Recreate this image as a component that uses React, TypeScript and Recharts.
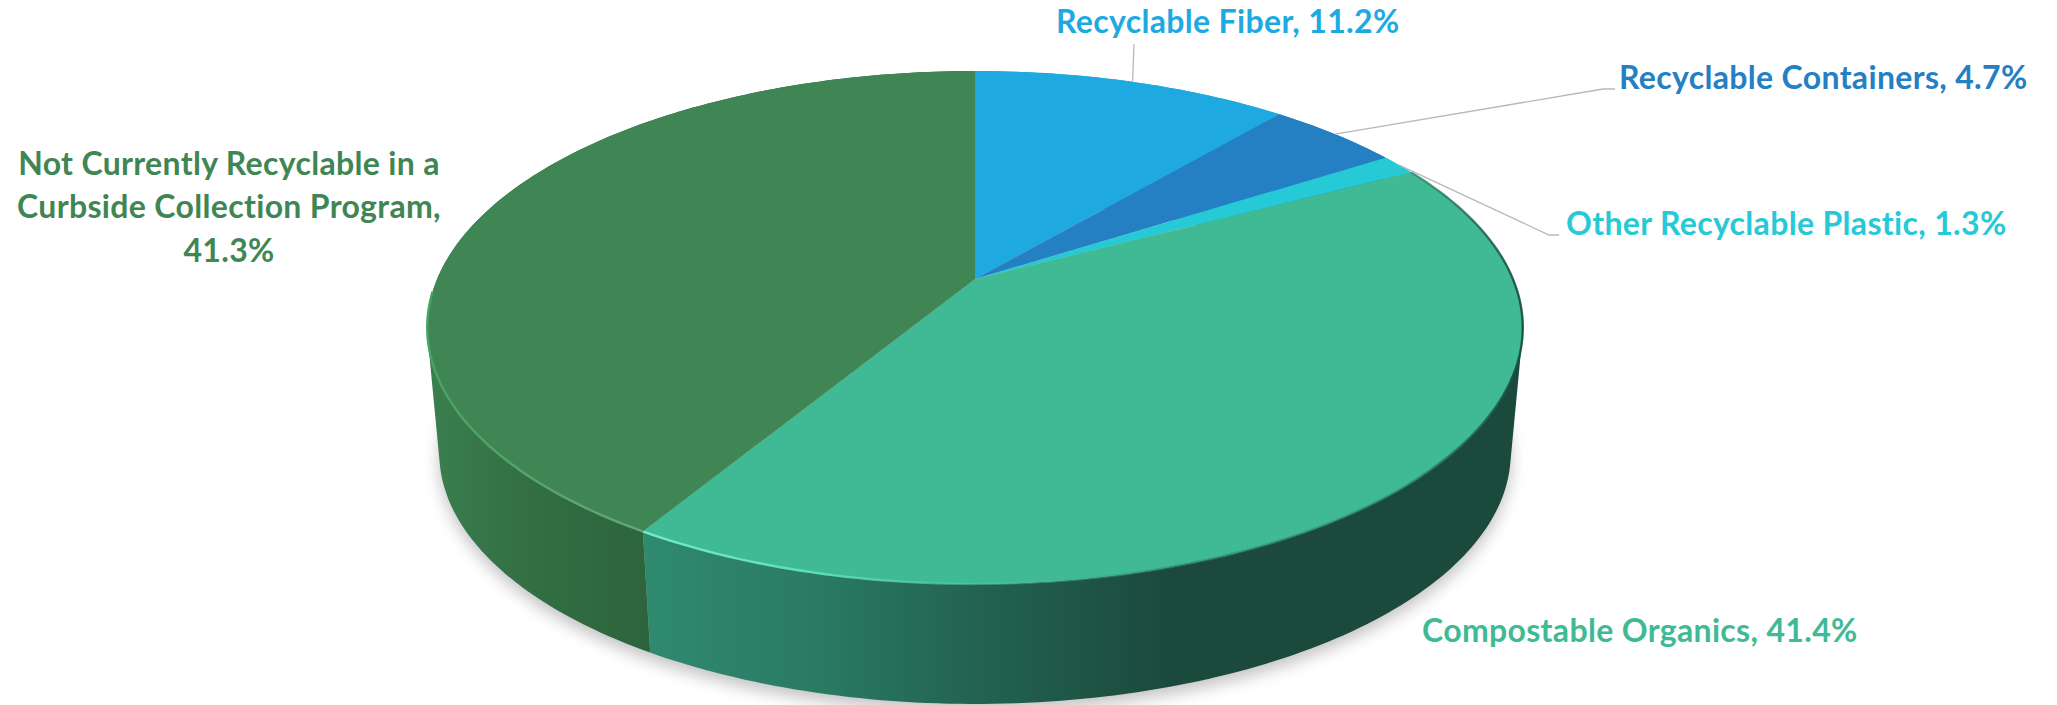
import { PieChart, Pie } from 'recharts';

const categories = [
  'Recyclable Fiber',
  'Recyclable Containers',
  'Other Recyclable Plastic',
  'Compostable Organics',
  'Not Currently Recyclable in a Curbside Collection Program',
];
const shares = [11.2, 4.7, 1.3, 41.4, 41.3];
const colors = ['#1eaae0', '#2480c3', '#26c9d6', '#40b995', '#3f8654'];

const rows = categories.map((name, i) => ({ name, share: shares[i], fill: colors[i] }));
const wholeDisc = [{ name: 'disc', share: shares.reduce((a, b) => a + b, 0) }];

// tilted disc: circle is pushed through a perspective divide
const TILT = 0.189;
const STRETCH = 2.175;
const DROP_SCALE = 0.978;
const DROP_VANISH_Y = 6040;
const RAD = Math.PI / 180;

type Pt = [number, number];

function project(cx: number, cy: number, r: number, deg: number): Pt {
  const u = Math.cos(deg * RAD);
  const v = Math.sin(deg * RAD);
  const w = 1 + TILT * v;
  return [cx + (r * STRETCH * u) / w, cy - (r * v) / w];
}

function dropped(cx: number, [x, y]: Pt): Pt {
  return [cx + DROP_SCALE * (x - cx), DROP_VANISH_Y - DROP_SCALE * (DROP_VANISH_Y - y)];
}

function arc(cx: number, cy: number, r: number, from: number, to: number): Pt[] {
  const n = Math.max(2, Math.ceil(Math.abs(to - from)));
  const pts: Pt[] = [];
  for (let i = 0; i <= n; i++) pts.push(project(cx, cy, r, from + ((to - from) * i) / n));
  return pts;
}

const toPath = (pts: Pt[]) =>
  pts.map((p, i) => `${i ? 'L' : 'M'}${p[0].toFixed(2)} ${p[1].toFixed(2)}`).join(' ');

// signed area, used to keep every wall quad wound the same way
function area(pts: Pt[]) {
  let sum = 0;
  pts.forEach((p, i) => {
    const q = pts[(i + 1) % pts.length];
    sum += p[0] * q[1] - q[0] * p[1];
  });
  return sum;
}

function TopFace(props: any) {
  const { cx, cy, outerRadius, startAngle, endAngle, fill, index } = props;
  const rim = arc(cx, cy, outerRadius, startAngle, endAngle);
  return (
    <g>
      <path d={`M${cx} ${cy} ${toPath(rim).replace('M', 'L')} Z`} fill={fill} />
      {index >= 3 && (
        <path
          d={toPath(rim.filter((p) => p[1] > (index === 3 ? 150 : 290)))}
          fill="none"
          stroke={`url(#rim-${index})`}
          strokeWidth={2.4}
          filter="url(#soften)"
        />
      )}
    </g>
  );
}

function SideWall(props: any) {
  const { cx, cy, outerRadius, startAngle, endAngle, fill, index } = props;
  const top = arc(cx, cy, outerRadius, startAngle, endAngle);
  const quads = top.slice(1).map((p, i) => {
    const quad: Pt[] = [top[i], p, dropped(cx, p), dropped(cx, top[i])];
    return `${toPath(area(quad) < 0 ? quad.reverse() : quad)} Z`;
  });
  const paint = index >= 3 ? `url(#wall-${index})` : fill;
  return <path d={quads.join(' ')} fill={paint} />;
}

function FloorShadow(props: any) {
  const { cx, cy, outerRadius, startAngle, endAngle } = props;
  const pts = arc(cx, cy, outerRadius, startAngle, endAngle).map((p) => dropped(cx, p));
  return (
    <path
      d={`${toPath(pts)} Z`}
      fill="#8f8f8f"
      opacity={0.55}
      filter="url(#floor-blur)"
      transform="translate(0 7)"
    />
  );
}

const labelLayout: Record<number, { x: number; anchor: string; baselines: number[]; lines?: string[] }> = {
  0: { x: 1056, anchor: 'start', baselines: [33] },
  1: { x: 1619, anchor: 'start', baselines: [89] },
  2: { x: 1566, anchor: 'start', baselines: [235] },
  3: { x: 1422, anchor: 'start', baselines: [642] },
  4: {
    x: 229,
    anchor: 'middle',
    baselines: [175, 218, 262],
    lines: ['Not Currently Recyclable in a', 'Curbside Collection Program,'],
  },
};

function SliceLabel(props: any) {
  const { index, name, share, fill } = props;
  const spot = labelLayout[index];
  const lines = spot.lines ? [...spot.lines, `${share}%`] : [`${name}, ${share}%`];
  return (
    <text
      textAnchor={spot.anchor as any}
      fill={fill}
      style={{ fontFamily: 'Lato', fontWeight: 700, fontSize: 32, letterSpacing: 0.33 }}
    >
      {lines.map((line, i) => (
        <tspan key={i} x={spot.x} y={spot.baselines[i]}>
          {line}
        </tspan>
      ))}
    </text>
  );
}

const leaderBends: Record<number, Pt[]> = {
  0: [[1134, 44]],
  1: [[1603, 89], [1615, 89]],
  2: [[1549, 235], [1559, 235]],
};

function LeaderLine(props: any) {
  const { index, cx, cy, outerRadius, midAngle } = props;
  const bends = leaderBends[index];
  if (!bends) return <g />;
  const start = project(cx, cy, outerRadius, midAngle);
  return <path d={toPath([start, ...bends])} fill="none" stroke="#b8b8b8" strokeWidth={1.3} />;
}

export default function App() {
  const ring = { cx: 975, cy: 279, outerRadius: 247.3, startAngle: 90, endAngle: -270 };
  return (
    <div style={{ position: 'absolute', left: 0, top: 0, width: 2057, height: 705, overflow: 'hidden', background: '#fff' }}>
      <PieChart width={2057} height={705} margin={{ top: 0, right: 0, bottom: 0, left: 0 }}>
        <defs>
          <filter id="floor-blur" x="-10%" y="-10%" width="120%" height="130%">
            <feGaussianBlur stdDeviation="8" />
          </filter>
          <filter id="soften" x="-5%" y="-5%" width="110%" height="110%">
            <feGaussianBlur stdDeviation="0.6" />
          </filter>
          <linearGradient id="wall-3" gradientUnits="userSpaceOnUse" x1="645" y1="0" x2="1170" y2="0">
            <stop offset="0" stopColor="#2f8a70" />
            <stop offset="0.32" stopColor="#2a7b63" />
            <stop offset="0.6" stopColor="#236552" />
            <stop offset="1" stopColor="#1b4a3c" />
          </linearGradient>
          <linearGradient id="wall-4" gradientUnits="userSpaceOnUse" x1="426" y1="0" x2="652" y2="0">
            <stop offset="0" stopColor="#3b7f4f" />
            <stop offset="0.45" stopColor="#326f43" />
            <stop offset="1" stopColor="#2d643c" />
          </linearGradient>
          <linearGradient id="rim-3" gradientUnits="userSpaceOnUse" x1="645" y1="0" x2="1525" y2="0">
            <stop offset="0" stopColor="#74ecc8" />
            <stop offset="0.2" stopColor="#5fdcb6" />
            <stop offset="0.42" stopColor="#4cc7a2" stopOpacity="0.4" />
            <stop offset="0.6" stopColor="#2e8a70" stopOpacity="0.6" />
            <stop offset="0.85" stopColor="#2e8a70" stopOpacity="0.6" />
            <stop offset="1" stopColor="#174a3a" stopOpacity="0.9" />
          </linearGradient>
          <linearGradient id="rim-4" gradientUnits="userSpaceOnUse" x1="426" y1="0" x2="645" y2="0">
            <stop offset="0" stopColor="#45a463" />
            <stop offset="1" stopColor="#66a675" />
          </linearGradient>
        </defs>
        <Pie
          {...ring}
          data={wholeDisc}
          dataKey="share"
          shape={FloorShadow}
          stroke="none"
          isAnimationActive={false}
        />
        <Pie
          {...ring}
          data={rows}
          dataKey="share"
          shape={SideWall}
          stroke="none"
          isAnimationActive={false}
        />
        <Pie
          {...ring}
          data={rows}
          dataKey="share"
          shape={TopFace}
          stroke="none"
          label={SliceLabel}
          labelLine={LeaderLine}
          isAnimationActive={false}
        />
      </PieChart>
    </div>
  );
}
